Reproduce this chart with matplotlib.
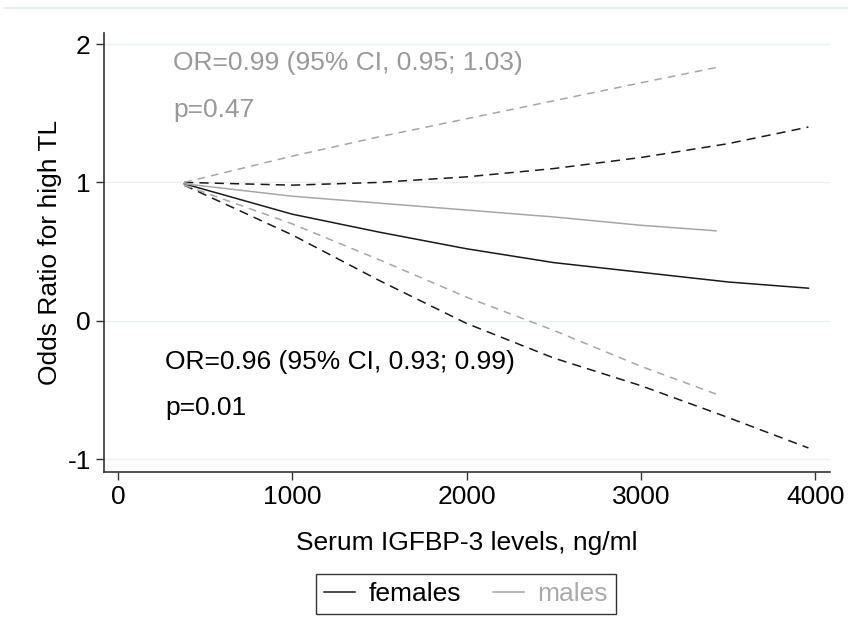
import matplotlib
matplotlib.use('Agg')
import matplotlib.pyplot as plt
from matplotlib.lines import Line2D

plt.rcParams['font.family'] = ['Liberation Sans', 'DejaVu Sans']
plt.rcParams['axes.unicode_minus'] = False

# females (solid = estimate, dashed = 95% CI)
x_f = [380, 1000, 1500, 2000, 2500, 3000, 3500, 3960]
f_est = [0.99, 0.77, 0.64, 0.52, 0.42, 0.35, 0.28, 0.235]
f_hi = [1.00, 0.98, 1.00, 1.04, 1.10, 1.18, 1.28, 1.40]
f_lo = [0.98, 0.62, 0.29, -0.02, -0.27, -0.47, -0.70, -0.92]

# males
x_m = [380, 1000, 1500, 2000, 2500, 3000, 3430]
m_est = [0.99, 0.90, 0.85, 0.80, 0.75, 0.69, 0.65]
m_hi = [1.00, 1.19, 1.33, 1.46, 1.59, 1.72, 1.83]
m_lo = [0.98, 0.70, 0.44, 0.17, -0.07, -0.33, -0.53]

xticks = [0, 1000, 2000, 3000, 4000]
yticks = [-1, 0, 1, 2]

black = '#1a1a1a'
gray = '#a6a6a6'
fs = 19

fig = plt.figure(figsize=(8.48, 6.18), dpi=100)
ax = fig.add_axes([0.1226, 0.2362, 0.8564, 0.7104])

# thin rule at the top of the image
fig.add_artist(Line2D([0.006, 1.0], [0.987, 0.987], color='#dfe9ee', lw=1.2))

for y in yticks:
    ax.axhline(y, color='#e8f0f2', lw=1.0, zorder=0)

ax.plot(x_f, f_est, color=black, lw=1.1)
ax.plot(x_f, f_hi, color=black, lw=1.1, ls=(0, (6, 4)))
ax.plot(x_f, f_lo, color=black, lw=1.1, ls=(0, (6, 4)))
ax.plot(x_m, m_est, color=gray, lw=1.1)
ax.plot(x_m, m_hi, color=gray, lw=1.1, ls=(0, (5, 4)))
ax.plot(x_m, m_lo, color=gray, lw=1.1, ls=(0, (5, 4)))

ax.text(315, 1.86, 'OR=0.99 (95% CI, 0.95; 1.03)', color='#999999', fontsize=fs, va='center')
ax.text(315, 1.52, 'p=0.47', color='#999999', fontsize=fs, va='center')
ax.text(270, -0.30, 'OR=0.96 (95% CI, 0.93; 0.99)', color='black', fontsize=fs, va='center')
ax.text(270, -0.63, 'p=0.01', color='black', fontsize=fs, va='center')

ax.set_xlim(-80, 4085)
ax.set_ylim(-1.094, 2.08)
ax.set_xticks(xticks)
ax.set_yticks(yticks)
ax.tick_params(direction='out', length=6, width=1, labelsize=fs, colors='#333333', labelcolor='black')
for s in ['top', 'right']:
    ax.spines[s].set_visible(False)
for s in ['left', 'bottom']:
    ax.spines[s].set_color('#333333')
    ax.spines[s].set_linewidth(1.2)

ax.set_xlabel('Serum IGFBP-3 levels, ng/ml', fontsize=fs, labelpad=16)
ax.set_ylabel('Odds Ratio for high TL', fontsize=fs, labelpad=4)

handles = [Line2D([], [], color=black, lw=1.1), Line2D([], [], color=gray, lw=1.1)]
leg = fig.legend(handles, ['females', 'males'], loc='center', bbox_to_anchor=(0.5495, 0.039),
                 ncol=2, fontsize=fs, frameon=True, fancybox=False, edgecolor='black',
                 handlelength=1.2, columnspacing=1.2, borderpad=0.3, borderaxespad=0,
                 handletextpad=0.5)
leg.get_frame().set_linewidth(1.0)
leg.get_texts()[1].set_color('#aaaaaa')

fig.savefig('out.png', dpi=100, facecolor='white')
